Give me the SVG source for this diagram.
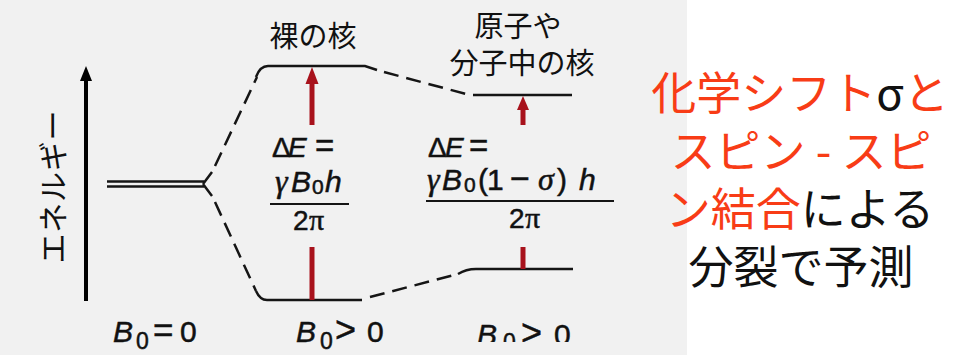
<svg xmlns="http://www.w3.org/2000/svg" width="958" height="355" viewBox="0 0 958 355">
<defs>
<style>
.jp{font-family:"Noto Sans CJK JP","Noto Sans",sans-serif;fill:#111}
.f{font-family:"Liberation Sans",Arial,sans-serif;fill:#111;stroke:#111;stroke-width:0.5}
.g{font-family:"Liberation Serif","Times New Roman",serif;font-style:italic}
.p{font-family:"Liberation Serif","Times New Roman",serif;font-style:normal}
.i{font-style:italic}
.lvl{fill:none;stroke:#151515;stroke-width:2.5}
.dash{fill:none;stroke:#151515;stroke-width:2.5;stroke-dasharray:15 8}
.red{stroke:#a8121c;stroke-width:5;fill:none}
.rh{fill:#a8121c}
.rt{font-family:"Noto Sans CJK JP","Noto Sans",sans-serif;font-size:45px;fill:#f83c16}
.bk{fill:#111}
</style>
<clipPath id="cut"><rect x="0" y="0" width="958" height="342"/></clipPath>
</defs>
<rect x="0" y="0" width="958" height="355" fill="#ffffff"/>
<rect x="0" y="0" width="687" height="355" fill="#f1f1f1"/>

<g id="axis">
<line x1="86" y1="301" x2="86" y2="78" stroke="#000" stroke-width="4"/>
<path d="M80,81 L86,66 L92,81 z" fill="#000"/>
<text class="jp" font-size="30" text-anchor="middle" transform="translate(64,187) rotate(-90)" textLength="153" lengthAdjust="spacing">エネルギー</text>
</g>

<g id="connectors">
<line x1="107" y1="181.5" x2="204" y2="181.5" class="lvl" stroke-width="2.2"/>
<line x1="107" y1="186.5" x2="204" y2="186.5" class="lvl" stroke-width="2.2"/>
<path d="M203,184 L212,172 M203,184 L212,196" class="lvl"/>
<path d="M215,166 L257,77" class="dash"/>
<path d="M215,202 L256,291" class="dash"/>
<path d="M256,77 Q260,66 268,66 L365,66 L377,70" class="lvl"/>
<path d="M256,291 Q260,300 267,300 L362,300" class="lvl"/>
<path d="M384,72 L466,94" class="dash"/>
<path d="M370,297 L458,274" class="dash"/>
</g>

<g id="bare">
<text class="jp" x="313" y="47" font-size="29" text-anchor="middle">裸の核</text>
<line x1="312" y1="125" x2="312" y2="82" class="red"/>
<path d="M305.5,84 L312,67 L318.5,84 z" class="rh"/>
<line x1="312" y1="247" x2="312" y2="300" class="red"/>
<text class="f" y="157" font-size="28"><tspan x="272">Δ</tspan><tspan class="i" x="288">E</tspan><tspan x="315" font-size="33">=</tspan></text>
<text class="f" y="192" font-size="30"><tspan class="g" x="275" font-size="32">γ</tspan><tspan class="i" x="291">B</tspan><tspan x="312" font-size="21" dy="2">0</tspan><tspan class="i" x="325" dy="-2">h</tspan></text>
<line x1="270" y1="204" x2="349" y2="204" stroke="#151515" stroke-width="2.2"/>
<text class="f" y="230" font-size="28"><tspan x="293">2</tspan><tspan class="p" x="309" font-size="30">π</tspan></text>
</g>

<g id="molecule">
<text class="jp" x="518" y="37" font-size="29" text-anchor="middle">原子や</text>
<text class="jp" x="522" y="74" font-size="29" text-anchor="middle">分子中の核</text>
<line x1="473" y1="95" x2="572" y2="95" class="lvl"/>
<path d="M458,274 Q466,269 476,269 L573,269" class="lvl"/>
<line x1="523" y1="125" x2="523" y2="108" class="red"/>
<path d="M517,110 L523,96 L529,110 z" class="rh"/>
<line x1="523" y1="247" x2="523" y2="269" class="red"/>
<text class="f" y="157" font-size="28"><tspan x="428">Δ</tspan><tspan class="i" x="445">E</tspan><tspan x="469" font-size="33">=</tspan></text>
<text class="f" y="190" font-size="30"><tspan class="g" x="427" font-size="32">γ</tspan><tspan class="i" x="442">B</tspan><tspan x="464" font-size="21" dy="2">0</tspan><tspan x="478" dy="-2">(</tspan><tspan x="487">1</tspan><tspan x="510" font-size="34">−</tspan><tspan class="g" x="538" font-size="32">σ</tspan><tspan x="557">)</tspan><tspan class="i" x="579">h</tspan></text>
<line x1="426" y1="201" x2="614" y2="201" stroke="#151515" stroke-width="2.2"/>
<text class="f" y="228" font-size="28"><tspan x="509">2</tspan><tspan class="p" x="525" font-size="30">π</tspan></text>
</g>

<g id="labels">
<text class="f" y="342" font-size="30"><tspan class="i" x="113">B</tspan><tspan x="136" font-size="23" dy="7">0</tspan><tspan x="153" dy="-7" font-size="35">=</tspan><tspan x="180">0</tspan></text>
<text class="f" y="342" font-size="30"><tspan class="i" x="296">B</tspan><tspan x="320" font-size="23" dy="7">0</tspan><tspan x="335" dy="-7" font-size="36">&gt;</tspan><tspan x="367">0</tspan></text>
<g clip-path="url(#cut)">
<text class="f" y="345" font-size="30"><tspan class="i" x="477">B</tspan><tspan x="503" font-size="23" dy="5">0</tspan><tspan x="521" dy="-5" font-size="36">&gt;</tspan><tspan x="554">0</tspan></text>
</g>
</g>

<g id="caption">
<text class="rt" x="800" y="110" text-anchor="middle">化学シフト<tspan class="bk">σ</tspan>と</text>
<text class="rt" x="801" y="168" text-anchor="middle">スピン - スピ</text>
<text class="rt" x="800" y="226" text-anchor="middle">ン結合<tspan class="bk">による</tspan></text>
<text class="rt" x="801" y="284" text-anchor="middle"><tspan class="bk">分裂で予測</tspan></text>
</g>
</svg>
